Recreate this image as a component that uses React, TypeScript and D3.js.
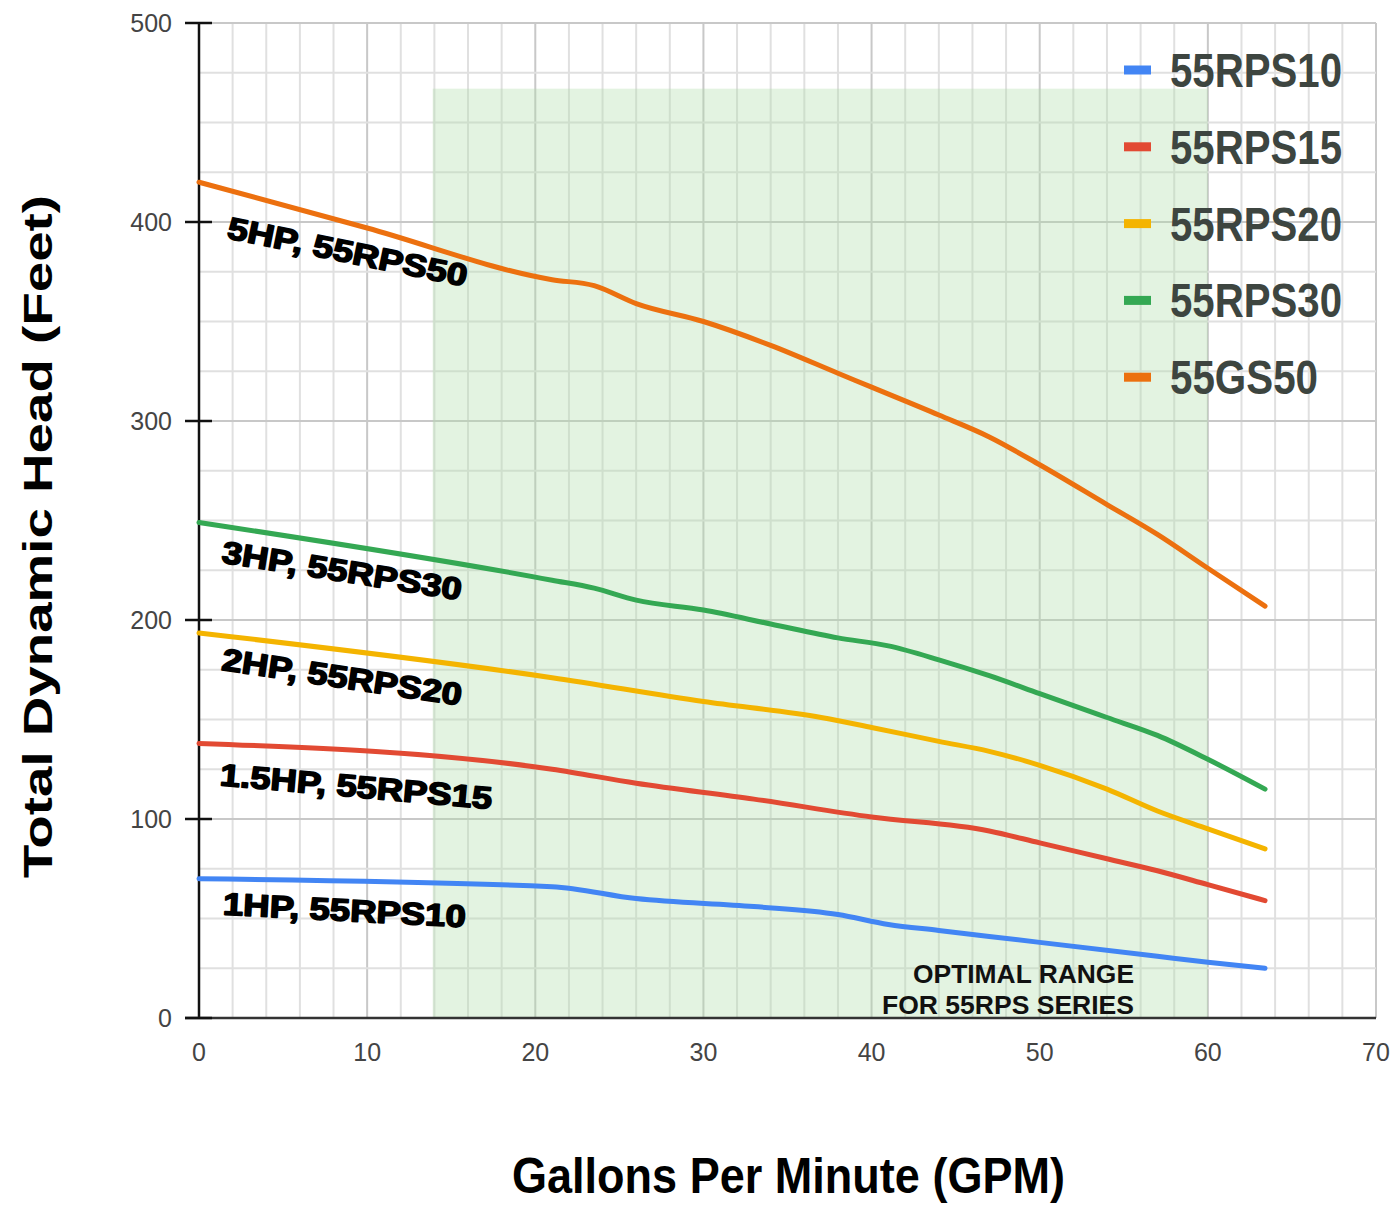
import { useEffect, useRef } from "react";
import * as d3 from "d3";

// pump curves: [gpm, feet]
const seriesNames = ["55RPS10", "55RPS15", "55RPS20", "55RPS30", "55GS50"];
const seriesColors = ["#4285f4", "#e24a33", "#f4b400", "#34a853", "#ec700f"];

const rps10 = [[0, 70], [21, 66], [26, 60], [33, 56], [38, 52], [41, 47], [44, 44], [50, 38], [57, 31], [60, 28], [63.4, 25]];
const rps15 = [[0, 138], [21, 125], [26, 118], [33, 110], [40, 101], [47, 94], [50, 88], [54, 80], [57, 74], [60, 67], [63.4, 59]];
const rps20 = [[0, 193.5], [21, 171], [30, 159], [37, 151], [40, 146], [44, 139], [47, 134], [50, 127], [54, 115], [57, 104], [60, 95], [63.4, 85]];
const rps30 = [[0, 249], [21, 220], [23.5, 216], [26, 210], [30, 205], [34, 198], [38, 191], [41, 187], [44, 180], [47, 172], [50, 163], [54, 151], [57, 142], [60, 130], [63.4, 115]];
const gs50 = [[0, 420], [10, 397], [21, 371], [23.5, 368], [26, 359], [30, 350], [34, 338], [38, 324], [40, 317], [44, 303], [47, 292], [50, 278], [54, 258], [57, 243], [60, 226], [63.4, 207]];
const allSeries = [rps10, rps15, rps20, rps30, gs50];

// label text, anchor point [gpm, feet], rotation, width
const curveLabels = ["1HP, 55RPS10", "1.5HP, 55RPS15", "2HP, 55RPS20", "3HP, 55RPS30", "5HP, 55RPS50"];
const labelAt = [[1.4, 52], [1.2, 117], [1.3, 175], [1.3, 229], [1.6, 392]];
const labelRot = [3, 5, 8.5, 9, 11.5];
const labelWidth = [243, 273, 242, 242, 244];

const xTicks = [0, 10, 20, 30, 40, 50, 60, 70];
const yTicks = [0, 100, 200, 300, 400, 500];
const optimalRange = [13.9, 60, 467];

export default function App() {
  const ref = useRef(null);

  useEffect(() => {
    const el = ref.current;
    el.innerHTML = "";
    const W = 1396, H = 1215;
    const left = 199, right = 1376, top = 23, bottom = 1018;

    const x = d3.scaleLinear().domain([0, 70]).range([left, right]);
    const y = d3.scaleLinear().domain([0, 500]).range([bottom, top]);

    const svg = d3.select(el).append("svg")
      .attr("width", W).attr("height", H)
      .style("position", "absolute").style("left", 0).style("top", 0)
      .style("font-family", "'Liberation Sans', Arial, sans-serif");

    svg.append("rect").attr("width", W).attr("height", H).attr("fill", "#fff");

    // grid
    const g = svg.append("g");
    g.selectAll(".vx").data(d3.range(2, 71, 2)).enter().append("line")
      .attr("x1", d => x(d)).attr("x2", d => x(d))
      .attr("y1", top).attr("y2", bottom)
      .attr("stroke", d => d % 10 === 0 ? "#c8c8c8" : "#e0e0e0").attr("stroke-width", 2);
    g.selectAll(".hy").data(d3.range(25, 501, 25)).enter().append("line")
      .attr("x1", left).attr("x2", right)
      .attr("y1", d => y(d)).attr("y2", d => y(d))
      .attr("stroke", d => d % 100 === 0 ? "#c8c8c8" : "#e0e0e0").attr("stroke-width", 2);

    // optimal range
    svg.append("rect")
      .attr("x", x(optimalRange[0])).attr("y", y(optimalRange[2]))
      .attr("width", x(optimalRange[1]) - x(optimalRange[0]))
      .attr("height", bottom - y(optimalRange[2]))
      .attr("fill", "rgb(176,222,170)").attr("opacity", 0.35);

    // axes
    svg.append("line").attr("x1", left).attr("x2", left).attr("y1", top).attr("y2", bottom)
      .attr("stroke", "#111").attr("stroke-width", 2.5);
    svg.append("line").attr("x1", 185).attr("x2", right).attr("y1", bottom).attr("y2", bottom)
      .attr("stroke", "#333").attr("stroke-width", 2.5);
    svg.selectAll(".yt").data(yTicks).enter().append("line")
      .attr("x1", 185).attr("x2", 212).attr("y1", d => y(d)).attr("y2", d => y(d))
      .attr("stroke", "#111").attr("stroke-width", 2.5);

    svg.selectAll(".ytl").data(yTicks).enter().append("text")
      .attr("x", 172).attr("y", d => y(d) + 9).attr("text-anchor", "end")
      .attr("font-size", 25).attr("fill", "#444").text(d => d);
    svg.selectAll(".xtl").data(xTicks).enter().append("text")
      .attr("x", d => x(d)).attr("y", 1061).attr("text-anchor", "middle")
      .attr("font-size", 25).attr("fill", "#444").text(d => d);

    // curves
    const line = d3.line().x(d => x(d[0])).y(d => y(d[1])).curve(d3.curveMonotoneX);
    allSeries.forEach((s, i) => {
      svg.append("path").attr("d", line(s)).attr("fill", "none")
        .attr("stroke", seriesColors[i]).attr("stroke-width", 5)
        .attr("stroke-linecap", "round").attr("stroke-linejoin", "round");
    });

    // curve labels
    curveLabels.forEach((t, i) => {
      const px = x(labelAt[i][0]), py = y(labelAt[i][1]);
      svg.append("text")
        .attr("transform", `translate(${px},${py}) rotate(${labelRot[i]})`)
        .attr("font-size", 31).attr("font-weight", 900).attr("fill", "#000")
        .attr("stroke", "#000").attr("stroke-width", 1.6).attr("stroke-linejoin", "round")
        .attr("textLength", labelWidth[i]).attr("lengthAdjust", "spacingAndGlyphs")
        .text(t);
    });

    // legend
    seriesNames.forEach((n, i) => {
      const ly = 70 + i * 76.8;
      svg.append("rect").attr("x", 1124).attr("y", ly - 4.5).attr("width", 27).attr("height", 9)
        .attr("fill", seriesColors[i]);
      svg.append("text").attr("x", 1170).attr("y", ly + 17)
        .attr("font-size", 48).attr("font-weight", "bold").attr("fill", "#3d4540")
        .attr("textLength", n === "55GS50" ? 148 : 172).attr("lengthAdjust", "spacingAndGlyphs")
        .text(n);
    });

    // optimal range note
    svg.append("text").attr("x", 913).attr("y", 983)
      .attr("font-size", 25).attr("font-weight", "bold").attr("fill", "#111")
      .attr("textLength", 221).attr("lengthAdjust", "spacingAndGlyphs").text("OPTIMAL RANGE");
    svg.append("text").attr("x", 882).attr("y", 1014)
      .attr("font-size", 25).attr("font-weight", "bold").attr("fill", "#111")
      .attr("textLength", 252).attr("lengthAdjust", "spacingAndGlyphs").text("FOR 55RPS SERIES");

    // axis titles
    svg.append("text").attr("x", 512).attr("y", 1193)
      .attr("font-size", 50).attr("font-weight", "bold").attr("fill", "#000")
      .attr("textLength", 553).attr("lengthAdjust", "spacingAndGlyphs")
      .text("Gallons Per Minute (GPM)");
    svg.append("text").attr("transform", "translate(52,878) rotate(-90)")
      .attr("font-size", 40).attr("font-weight", "bold").attr("fill", "#000")
      .attr("textLength", 683).attr("lengthAdjust", "spacingAndGlyphs")
      .text("Total Dynamic Head (Feet)");
  }, []);

  return <div ref={ref}></div>;
}
